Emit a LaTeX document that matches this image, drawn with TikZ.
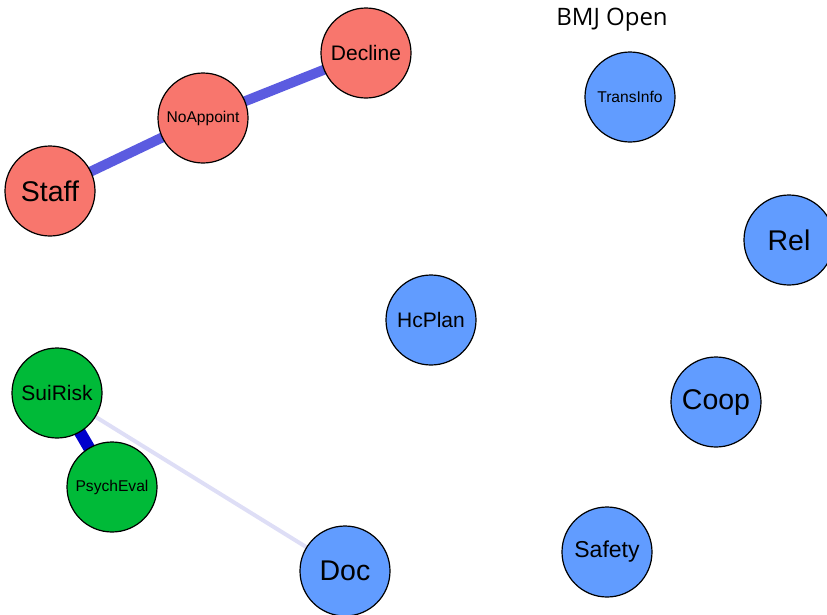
\documentclass[tikz,border=0pt]{standalone}
\usepackage{fontspec}
\setmainfont{Liberation Sans}
\newfontfamily\titlefont{Open Sans}
\usetikzlibrary{backgrounds}

\definecolor{clred}{HTML}{F8766D}
\definecolor{clgreen}{HTML}{00BA38}
\definecolor{clblue}{HTML}{619CFF}
\definecolor{edgemid}{HTML}{5B5BE0}
\definecolor{edgestrong}{HTML}{0000CC}
\definecolor{edgeweak}{HTML}{DEDEF6}

\tikzset{
  vert/.style={circle, draw=black, line width=1.2pt, minimum size=90pt, inner sep=0pt},
  big/.style={font=\fontsize{28.5}{30}\selectfont},
  large/.style={font=\fontsize{23}{25}\selectfont},
  mid/.style={font=\fontsize{21}{23}\selectfont},
  small/.style={font=\fontsize{15.6}{17}\selectfont}
}

\begin{document}
\begin{tikzpicture}[x=1pt, y=-1pt]
        \useasboundingbox (0,0) rectangle (827,614);

        % title
        \node[font=\titlefont\fontsize{24}{26}\selectfont] (title) at (612,20) {BMJ Open};

        % red cluster
        \node[vert, big, fill=clred] (staff) at (50,191) {Staff};
        \node[vert, small, fill=clred] (noappoint) at (203,118) {NoAppoint};
        \node[vert, mid, fill=clred] (decline) at (366,53) {Decline};

        % green cluster
        \node[vert, mid, fill=clgreen] (suirisk) at (57,393) {SuiRisk};
        \node[vert, small, fill=clgreen] (psycheval) at (112,487) {PsychEval};

        % blue nodes
        \node[vert, small, fill=clblue] (transinfo) at (630,97) {TransInfo};
        \node[vert, big, fill=clblue] (rel) at (789,240) {Rel};
        \node[vert, mid, fill=clblue] (hcplan) at (431,320) {HcPlan};
        \node[vert, big, fill=clblue] (coop) at (716,402) {Coop};
        \node[vert, large, fill=clblue] (safety) at (607,552) {Safety};
        \node[vert, big, fill=clblue] (doc) at (345,571) {Doc};

        % edges
        \begin{pgfonlayer}{background}
          \draw[edgemid, line width=10pt] (staff.center) -- (noappoint.center);
          \draw[edgemid, line width=10pt] (noappoint.center) -- (decline.center);
          \draw[edgestrong, line width=12pt] (suirisk.center) -- (psycheval.center);
          \draw[edgeweak, line width=4pt] (suirisk.center) -- (doc.center);
        \end{pgfonlayer}
\end{tikzpicture}
\end{document}
